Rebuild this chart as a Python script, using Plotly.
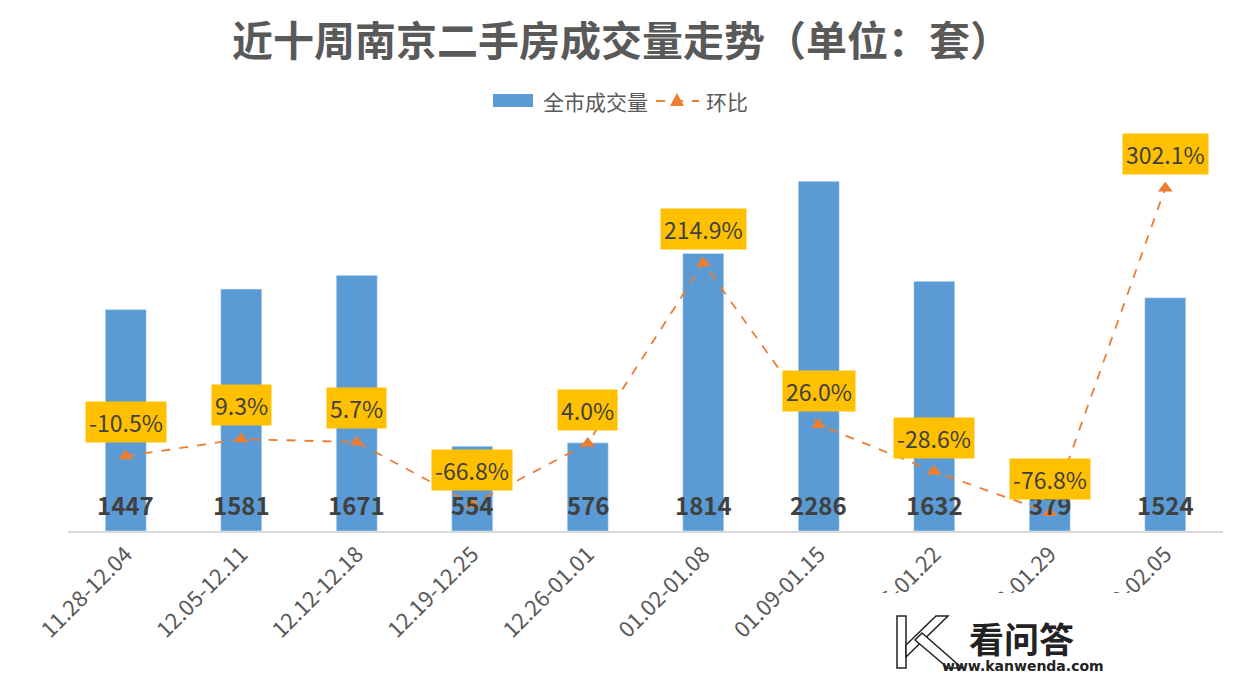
"""
近十周南京二手房成交量走势
"""
import plotly.graph_objects as go

weeks = ["11.28-12.04", "12.05-12.11", "12.12-12.18", "12.19-12.25", "12.26-01.01",
         "01.02-01.08", "01.09-01.15", "01.16-01.22", "01.23-01.29", "01.30-02.05"]
volume = [1447, 1581, 1671, 554, 576, 1814, 2286, 1632, 379, 1524]
mom = [-10.5, 9.3, 5.7, -66.8, 4.0, 214.9, 26.0, -28.6, -76.8, 302.1]

FONT = "Noto Sans CJK SC"
GREY = "#595959"
BLUE = "#5B9BD5"
ORANGE = "#ED7D31"

# 绘图区像素位置
L, R, T, B = 68, 1223, 130, 531


def px(x):
    return (x - L) / (R - L)


def py(y):
    return (B - y) / (B - T)


fig = go.Figure()
fig.add_trace(go.Bar(
    x=weeks, y=volume, name="全市成交量",
    marker_color=BLUE, yaxis="y",
))
fig.add_trace(go.Scatter(
    x=weeks, y=mom, name="环比", yaxis="y2",
    mode="lines+markers",
    line=dict(color=ORANGE, width=1.8, dash="dash"),
    marker=dict(symbol="triangle-up", size=13, color=ORANGE),
))

annotations = []
# 成交量数值（柱底）
for w, v in zip(weeks, volume):
    annotations.append(dict(
        x=w, y=176, xref="x", yref="y", text=str(v), showarrow=False,
        font=dict(family=FONT, size=24, color="#404040", weight="bold"),
    ))
# 环比标签
for w, m in zip(weeks, mom):
    annotations.append(dict(
        x=w, y=m, xref="x", yref="y2", text=f"{m:.1f}%", showarrow=False,
        yshift=34, bgcolor="#FFC000", borderpad=3,
        font=dict(family=FONT, size=23, color="#404040"),
    ))


def note(x, y, text, size, family=FONT, color=GREY, xanchor="center"):
    return dict(x=px(x), y=py(y), xref="paper", yref="paper", text=text,
                xanchor=xanchor, yanchor="middle", showarrow=False,
                font=dict(family=family, size=size, color=color))


# 图例（手绘）
annotations += [
    note(541, 101, "全市成交量", 21, xanchor="left"),
    note(704, 101, "环比", 21, xanchor="left"),
]
shapes = [
    dict(type="rect", xref="paper", yref="paper",
         x0=px(493), x1=px(533), y0=py(107), y1=py(94), fillcolor=BLUE, line_width=0),
    dict(type="line", xref="paper", yref="paper",
         x0=px(656), x1=px(699), y0=py(101), y1=py(101),
         line=dict(color=ORANGE, width=1.8, dash="dash")),
    dict(type="path", xref="paper", yref="paper",
         path=f"M {px(677)} {py(93)} L {px(670)} {py(106)} L {px(684)} {py(106)} Z",
         fillcolor=ORANGE, line_width=0),
]

# 水印
shapes.append(dict(type="rect", xref="paper", yref="paper",
                   x0=px(800), x1=px(1243), y0=py(678), y1=py(593),
                   fillcolor="white", line_width=0, layer="above"))
logo = [
    [(897, 616), (906, 616), (906, 668), (897, 668)],
    [(906, 645), (936, 616), (948, 616), (906, 657)],
    [(915, 640), (922, 633), (962, 668), (948, 668)],
]
for poly in logo:
    path = "M " + " L ".join(f"{px(a)} {py(b)}" for a, b in poly) + " Z"
    shapes.append(dict(type="path", xref="paper", yref="paper", path=path,
                       fillcolor="white", line=dict(color="#222222", width=1.5),
                       layer="above"))
annotations += [
    note(1021, 637, "<b>看问答</b>", 35, color="#222222"),
    note(1023, 666, "<b>www.kanwenda.com</b>", 14, family="DejaVu Sans", color="#222222"),
]

fig.update_layout(
    width=1243, height=678,
    paper_bgcolor="white", plot_bgcolor="white",
    margin=dict(l=L, r=1243 - R, t=T, b=678 - B, autoexpand=False),
    title=dict(text="<b>近十周南京二手房成交量走势（单位：套）</b>",
               x=0.5, xanchor="center", y=1 - 42 / 678, yanchor="middle",
               font=dict(family=FONT, size=41, color=GREY)),
    showlegend=False,
    bargap=0.645,
    xaxis=dict(range=[-0.5, len(weeks) - 0.5], showline=True, linecolor="#D9D9D9",
               linewidth=1.5, automargin=False, tickangle=-45, ticks="",
               tickfont=dict(family=FONT, size=22, color=GREY)),
    yaxis=dict(range=[0, 2621], visible=False, showgrid=False, automargin=False),
    yaxis2=dict(range=[-98, 370], overlaying="y", side="right",
                visible=False, showgrid=False, automargin=False),
    annotations=annotations,
    shapes=shapes,
)

fig.write_html("out.html", config={"displayModeBar": False},
               post_script="document.body.style.margin='0';"
                           "document.body.style.overflow='hidden';")
